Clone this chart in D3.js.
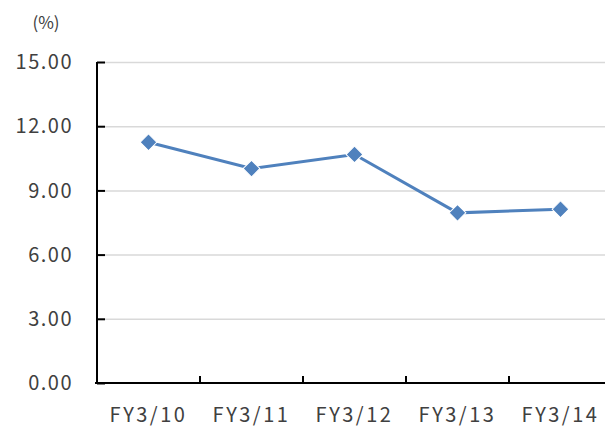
<!DOCTYPE html>
<html>
  <head>
    <meta charset="UTF-8" />
    <script src="https://cdnjs.cloudflare.com/ajax/libs/d3/7.8.5/d3.min.js"></script>
    <style>
      body { margin: 0; background: #fff; }
      text { font-family: "Noto Sans CJK JP", "Noto Sans", sans-serif; fill: #404040; }
      .grid line { stroke: #d9d9d9; stroke-width: 1.5; }
      .grid path.domain { stroke: none; }
    </style>
  </head>
  <body>
    <svg id="chart" width="605" height="428"></svg>
    <script>
      const categories = ["FY3/10", "FY3/11", "FY3/12", "FY3/13", "FY3/14"];
      const values = [11.25, 10.02, 10.68, 7.95, 8.12];
      const yTicks = [0, 3, 6, 9, 12, 15];

      const svg = d3.select("#chart");
      const plotLeft = 97, plotRight = 612, plotTop = 62, plotBottom = 383;

      const x = d3.scaleBand().domain(categories).range([plotLeft, plotRight]);
      const y = d3.scaleLinear().domain([0, 15]).range([plotBottom, plotTop]);
      const cx = c => x(c) + x.bandwidth() / 2;

      // gridlines
      svg.append("g")
        .attr("class", "grid")
        .attr("transform", `translate(${plotLeft},0)`)
        .call(d3.axisRight(y).tickValues(yTicks.slice(1)).tickSize(605 - plotLeft).tickFormat(""));

      // y axis
      const yAxis = svg.append("g")
        .attr("transform", `translate(${plotLeft},0)`)
        .call(d3.axisRight(y).tickValues(yTicks).tickSize(8).tickFormat(""));
      yAxis.select(".domain").attr("stroke", "#000").attr("stroke-width", 2)
        .attr("d", `M0,${plotTop}V${plotBottom + 1}`);
      yAxis.selectAll(".tick line").attr("stroke", "#000").attr("stroke-width", 2);

      svg.append("g")
        .selectAll("text")
        .data(yTicks)
        .join("text")
        .attr("x", 73)
        .attr("y", d => y(d))
        .attr("dy", "0.36em")
        .attr("text-anchor", "end")
        .attr("font-size", 20)
        .attr("letter-spacing", 1.5)
        .text(d => d3.format(".2f")(d));

      // x axis: ticks sit on band boundaries
      const xAxis = svg.append("g")
        .attr("transform", `translate(${-x.bandwidth() / 2},${plotBottom})`)
        .call(d3.axisTop(x).tickValues(categories.slice(1)).tickSize(7).tickFormat(""));
      xAxis.select(".domain").remove();
      xAxis.selectAll(".tick line").attr("stroke", "#000").attr("stroke-width", 2);
      svg.append("line")
        .attr("x1", plotLeft - 2).attr("x2", 605)
        .attr("y1", plotBottom).attr("y2", plotBottom)
        .attr("stroke", "#000").attr("stroke-width", 2);

      svg.append("g")
        .selectAll("text")
        .data(categories)
        .join("text")
        .attr("x", d => cx(d))
        .attr("y", 422)
        .attr("text-anchor", "middle")
        .attr("font-size", 20)
        .attr("letter-spacing", 2.5)
        .text(d => d);

      svg.append("text")
        .attr("x", 46).attr("y", 29)
        .attr("text-anchor", "middle")
        .attr("font-size", 17)
        .text("(%)");

      // line
      const line = d3.line()
        .x((d, i) => cx(categories[i]))
        .y(d => y(d));
      svg.append("path")
        .datum(values)
        .attr("fill", "none")
        .attr("stroke", "#4f81bd")
        .attr("stroke-width", 3)
        .attr("d", line);

      svg.append("g")
        .selectAll("path")
        .data(values)
        .join("path")
        .attr("d", d3.symbol(d3.symbolSquare, 140))
        .attr("transform", (d, i) => `translate(${cx(categories[i])},${y(d)}) rotate(45)`)
        .attr("fill", "#4f81bd")
        .attr("stroke", "#fff")
        .attr("stroke-width", 1);
    </script>
  </body>
</html>
